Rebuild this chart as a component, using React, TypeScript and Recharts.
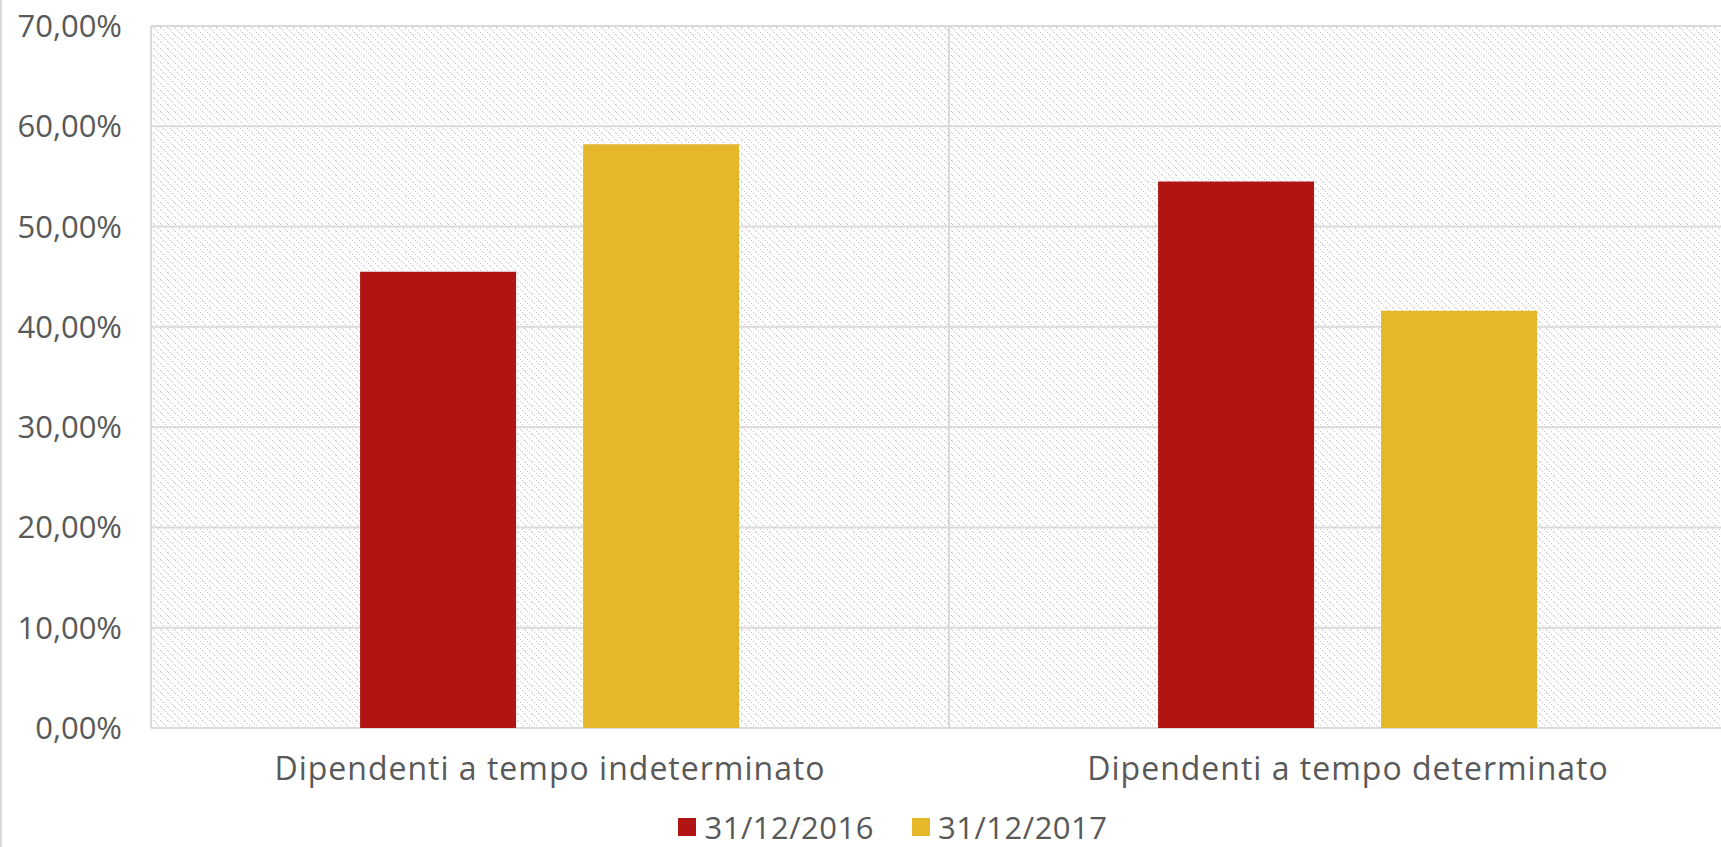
import React from 'react';
import { BarChart, Bar, XAxis, YAxis, CartesianGrid, Legend } from 'recharts';

const categories = ['Dipendenti a tempo indeterminato', 'Dipendenti a tempo determinato'];
const values2016 = [45.5, 54.5];
const values2017 = [58.2, 41.6];
const yTicks = [0, 10, 20, 30, 40, 50, 60, 70];

const seriesInfo = [
  { key: 'y2016', label: '31/12/2016', color: '#B01513' },
  { key: 'y2017', label: '31/12/2017', color: '#E5B72A' },
];

const data = categories.map((name, i) => ({
  name,
  y2016: values2016[i],
  y2017: values2017[i],
}));

const FONT = '"Open Sans", sans-serif';
const TEXT = '#595959';
const GRID = '#d9d9d9';
const DOT = '#c4c4c4';

const formatPct = (v: number) => `${v.toFixed(2).replace('.', ',')}%`;

function LegendContent() {
  return (
    <div
      style={{
        display: 'flex',
        justifyContent: 'center',
        alignItems: 'center',
        height: 40,
        fontFamily: FONT,
        fontSize: 31,
        letterSpacing: 0.5,
        color: TEXT,
      }}
    >
      {seriesInfo.map((s, i) => (
        <div
          key={s.key}
          style={{ display: 'flex', alignItems: 'center', marginLeft: i === 0 ? 0 : 38 }}
        >
          <div style={{ width: 18, height: 18, background: s.color, marginRight: 8 }} />
          <span>{s.label}</span>
        </div>
      ))}
    </div>
  );
}

export default function App() {
  return (
    <div
      style={{
        position: 'fixed',
        left: 0,
        top: 0,
        width: 1721,
        height: 847,
        overflow: 'hidden',
        background: '#fff',
      }}
    >
      <div style={{ position: 'absolute', left: 0, top: 0, width: 2, height: 847, background: GRID }} />
      <BarChart
        width={1786}
        height={847}
        data={data}
        margin={{ top: 26, right: 39, left: 0, bottom: 0 }}
        barCategoryGap="26.2%"
        barGap={67}
      >
        <defs>
          <pattern id="hatch" width="7" height="7" patternUnits="userSpaceOnUse">
            <rect width="7" height="7" fill="#ffffff" />
            <rect x="0" y="0" width="1" height="1" fill={DOT} />
            <rect x="2" y="2" width="1" height="1" fill={DOT} />
            <rect x="4" y="4" width="1" height="1" fill={DOT} />
            <rect x="6" y="6" width="1" height="1" fill={DOT} />
          </pattern>
        </defs>
        <CartesianGrid
          fill="url(#hatch)"
          fillOpacity={1}
          stroke={GRID}
          strokeWidth={2}
          verticalCoordinatesGenerator={({ offset }: any) => [
            offset.left,
            offset.left + offset.width / 2,
            offset.left + offset.width,
          ]}
        />
        <XAxis
          dataKey="name"
          axisLine={false}
          tickLine={false}
          tickSize={0}
          tickMargin={29}
          height={79}
          interval={0}
          tick={{ fontFamily: FONT, fontSize: 32, fill: TEXT, letterSpacing: 1 }}
        />
        <YAxis
          width={151}
          domain={[0, 70]}
          ticks={yTicks}
          axisLine={false}
          tickLine={false}
          tickSize={0}
          tickMargin={29}
          tickFormatter={formatPct}
          tick={{ fontFamily: FONT, fontSize: 31, fill: TEXT }}
        />
        <Legend
          verticalAlign="bottom"
          height={40}
          wrapperStyle={{ left: 0, width: 1786 }}
          content={() => <LegendContent />}
        />
        {seriesInfo.map((s) => (
          <Bar key={s.key} dataKey={s.key} name={s.label} fill={s.color} isAnimationActive={false} />
        ))}
      </BarChart>
    </div>
  );
}
